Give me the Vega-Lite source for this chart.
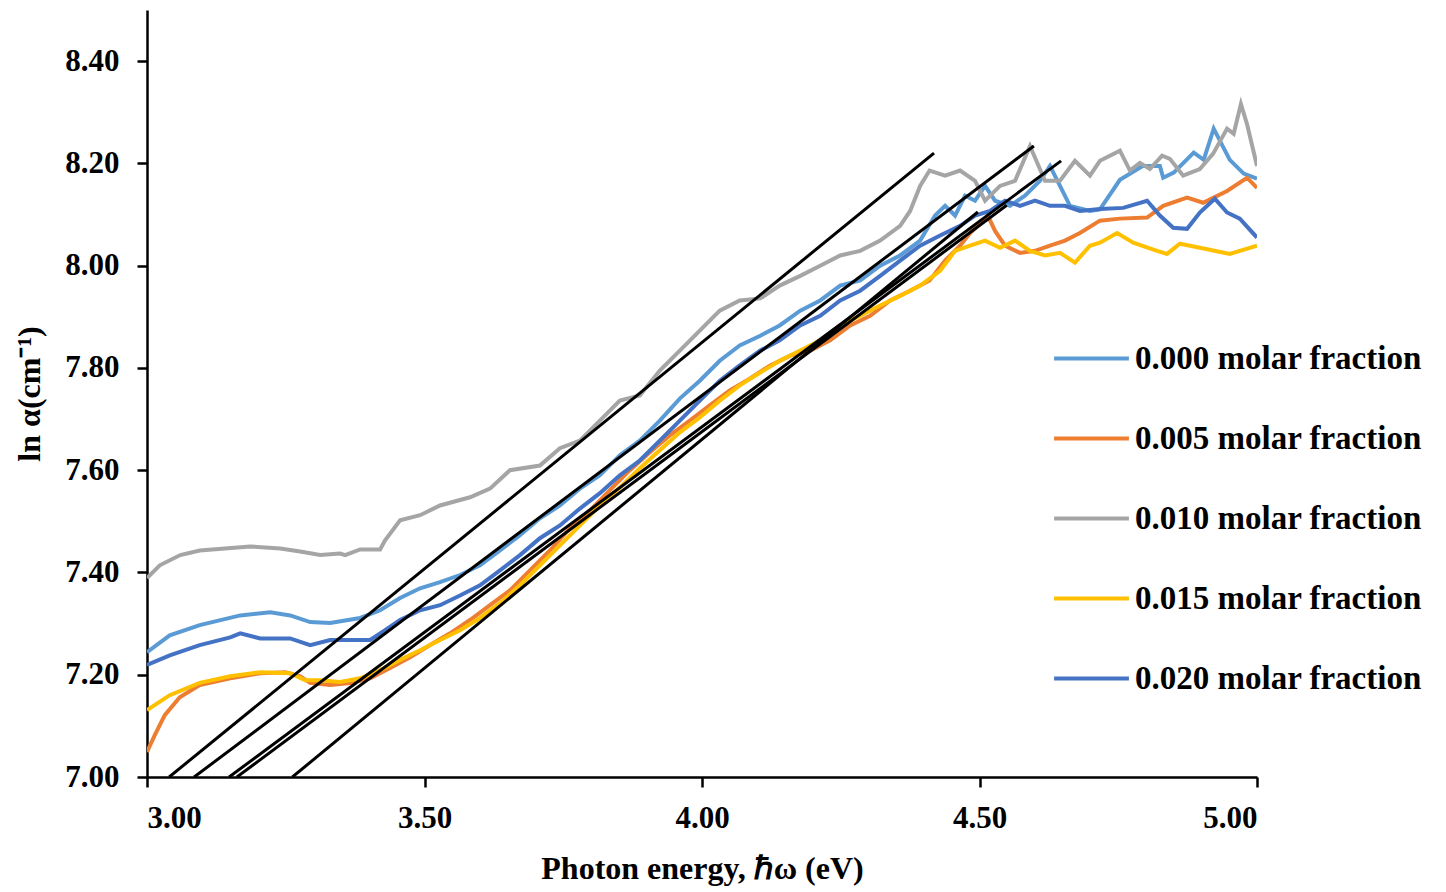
{
  "$schema": "https://vega.github.io/schema/vega-lite/v6.json",
  "width": 1110,
  "height": 767,
  "autosize": "none",
  "padding": {"left": 147, "top": 10, "right": 189, "bottom": 115},
  "background": "white",
  "config": {
    "view": {"stroke": null},
    "font": "Liberation Serif",
    "axis": {
      "grid": false,
      "domainColor": "black",
      "domainWidth": 2.5,
      "tickColor": "black",
      "tickWidth": 2.5,
      "tickSize": 10,
      "labelFont": "Liberation Serif",
      "labelFontSize": 31,
      "labelFontWeight": "bold",
      "labelColor": "black",
      "titleFont": "Liberation Serif",
      "titleFontSize": 32,
      "titleFontWeight": "bold",
      "titleColor": "black"
    },
    "legend": {
      "labelFont": "Liberation Serif",
      "labelFontSize": 33,
      "labelFontWeight": "bold",
      "labelColor": "black",
      "labelLimit": 0
    }
  },
  "datasets": {
    "curves": [
      {"e":3.0,"v":7.244,"s":"0.000 molar fraction"},{"e":3.041,"v":7.277,"s":"0.000 molar fraction"},{"e":3.095,"v":7.297,"s":"0.000 molar fraction"},{"e":3.168,"v":7.316,"s":"0.000 molar fraction"},{"e":3.222,"v":7.322,"s":"0.000 molar fraction"},{"e":3.258,"v":7.316,"s":"0.000 molar fraction"},{"e":3.294,"v":7.303,"s":"0.000 molar fraction"},{"e":3.33,"v":7.301,"s":"0.000 molar fraction"},{"e":3.384,"v":7.311,"s":"0.000 molar fraction"},{"e":3.42,"v":7.326,"s":"0.000 molar fraction"},{"e":3.456,"v":7.35,"s":"0.000 molar fraction"},{"e":3.492,"v":7.369,"s":"0.000 molar fraction"},{"e":3.528,"v":7.381,"s":"0.000 molar fraction"},{"e":3.564,"v":7.395,"s":"0.000 molar fraction"},{"e":3.6,"v":7.414,"s":"0.000 molar fraction"},{"e":3.636,"v":7.443,"s":"0.000 molar fraction"},{"e":3.672,"v":7.473,"s":"0.000 molar fraction"},{"e":3.708,"v":7.506,"s":"0.000 molar fraction"},{"e":3.744,"v":7.531,"s":"0.000 molar fraction"},{"e":3.78,"v":7.564,"s":"0.000 molar fraction"},{"e":3.816,"v":7.59,"s":"0.000 molar fraction"},{"e":3.852,"v":7.629,"s":"0.000 molar fraction"},{"e":3.888,"v":7.658,"s":"0.000 molar fraction"},{"e":3.924,"v":7.697,"s":"0.000 molar fraction"},{"e":3.96,"v":7.74,"s":"0.000 molar fraction"},{"e":3.996,"v":7.775,"s":"0.000 molar fraction"},{"e":4.032,"v":7.814,"s":"0.000 molar fraction"},{"e":4.068,"v":7.844,"s":"0.000 molar fraction"},{"e":4.105,"v":7.863,"s":"0.000 molar fraction"},{"e":4.14,"v":7.883,"s":"0.000 molar fraction"},{"e":4.177,"v":7.912,"s":"0.000 molar fraction"},{"e":4.213,"v":7.932,"s":"0.000 molar fraction"},{"e":4.249,"v":7.961,"s":"0.000 molar fraction"},{"e":4.285,"v":7.971,"s":"0.000 molar fraction"},{"e":4.321,"v":8.0,"s":"0.000 molar fraction"},{"e":4.357,"v":8.02,"s":"0.000 molar fraction"},{"e":4.393,"v":8.049,"s":"0.000 molar fraction"},{"e":4.42,"v":8.098,"s":"0.000 molar fraction"},{"e":4.438,"v":8.117,"s":"0.000 molar fraction"},{"e":4.456,"v":8.098,"s":"0.000 molar fraction"},{"e":4.474,"v":8.137,"s":"0.000 molar fraction"},{"e":4.492,"v":8.127,"s":"0.000 molar fraction"},{"e":4.51,"v":8.156,"s":"0.000 molar fraction"},{"e":4.528,"v":8.127,"s":"0.000 molar fraction"},{"e":4.555,"v":8.117,"s":"0.000 molar fraction"},{"e":4.582,"v":8.137,"s":"0.000 molar fraction"},{"e":4.609,"v":8.166,"s":"0.000 molar fraction"},{"e":4.627,"v":8.195,"s":"0.000 molar fraction"},{"e":4.645,"v":8.156,"s":"0.000 molar fraction"},{"e":4.663,"v":8.117,"s":"0.000 molar fraction"},{"e":4.699,"v":8.107,"s":"0.000 molar fraction"},{"e":4.717,"v":8.11,"s":"0.000 molar fraction"},{"e":4.753,"v":8.168,"s":"0.000 molar fraction"},{"e":4.794,"v":8.195,"s":"0.000 molar fraction"},{"e":4.825,"v":8.195,"s":"0.000 molar fraction"},{"e":4.831,"v":8.172,"s":"0.000 molar fraction"},{"e":4.85,"v":8.182,"s":"0.000 molar fraction"},{"e":4.886,"v":8.221,"s":"0.000 molar fraction"},{"e":4.904,"v":8.207,"s":"0.000 molar fraction"},{"e":4.922,"v":8.268,"s":"0.000 molar fraction"},{"e":4.94,"v":8.23,"s":"0.000 molar fraction"},{"e":4.951,"v":8.207,"s":"0.000 molar fraction"},{"e":4.976,"v":8.18,"s":"0.000 molar fraction"},{"e":5.0,"v":8.17,"s":"0.000 molar fraction"},

      {"e":3.0,"v":7.049,"s":"0.005 molar fraction"},{"e":3.014,"v":7.082,"s":"0.005 molar fraction"},{"e":3.032,"v":7.121,"s":"0.005 molar fraction"},{"e":3.059,"v":7.156,"s":"0.005 molar fraction"},{"e":3.095,"v":7.18,"s":"0.005 molar fraction"},{"e":3.15,"v":7.193,"s":"0.005 molar fraction"},{"e":3.204,"v":7.203,"s":"0.005 molar fraction"},{"e":3.249,"v":7.205,"s":"0.005 molar fraction"},{"e":3.276,"v":7.197,"s":"0.005 molar fraction"},{"e":3.294,"v":7.184,"s":"0.005 molar fraction"},{"e":3.33,"v":7.18,"s":"0.005 molar fraction"},{"e":3.366,"v":7.184,"s":"0.005 molar fraction"},{"e":3.402,"v":7.193,"s":"0.005 molar fraction"},{"e":3.438,"v":7.213,"s":"0.005 molar fraction"},{"e":3.474,"v":7.234,"s":"0.005 molar fraction"},{"e":3.51,"v":7.258,"s":"0.005 molar fraction"},{"e":3.546,"v":7.281,"s":"0.005 molar fraction"},{"e":3.582,"v":7.307,"s":"0.005 molar fraction"},{"e":3.618,"v":7.336,"s":"0.005 molar fraction"},{"e":3.654,"v":7.365,"s":"0.005 molar fraction"},{"e":3.69,"v":7.404,"s":"0.005 molar fraction"},{"e":3.726,"v":7.443,"s":"0.005 molar fraction"},{"e":3.762,"v":7.486,"s":"0.005 molar fraction"},{"e":3.798,"v":7.521,"s":"0.005 molar fraction"},{"e":3.834,"v":7.561,"s":"0.005 molar fraction"},{"e":3.87,"v":7.6,"s":"0.005 molar fraction"},{"e":3.906,"v":7.635,"s":"0.005 molar fraction"},{"e":3.942,"v":7.668,"s":"0.005 molar fraction"},{"e":3.978,"v":7.697,"s":"0.005 molar fraction"},{"e":4.014,"v":7.727,"s":"0.005 molar fraction"},{"e":4.05,"v":7.756,"s":"0.005 molar fraction"},{"e":4.086,"v":7.779,"s":"0.005 molar fraction"},{"e":4.123,"v":7.805,"s":"0.005 molar fraction"},{"e":4.159,"v":7.824,"s":"0.005 molar fraction"},{"e":4.195,"v":7.834,"s":"0.005 molar fraction"},{"e":4.231,"v":7.854,"s":"0.005 molar fraction"},{"e":4.267,"v":7.883,"s":"0.005 molar fraction"},{"e":4.303,"v":7.902,"s":"0.005 molar fraction"},{"e":4.339,"v":7.932,"s":"0.005 molar fraction"},{"e":4.375,"v":7.951,"s":"0.005 molar fraction"},{"e":4.41,"v":7.971,"s":"0.005 molar fraction"},{"e":4.438,"v":8.01,"s":"0.005 molar fraction"},{"e":4.465,"v":8.039,"s":"0.005 molar fraction"},{"e":4.483,"v":8.064,"s":"0.005 molar fraction"},{"e":4.497,"v":8.078,"s":"0.005 molar fraction"},{"e":4.515,"v":8.098,"s":"0.005 molar fraction"},{"e":4.528,"v":8.068,"s":"0.005 molar fraction"},{"e":4.546,"v":8.039,"s":"0.005 molar fraction"},{"e":4.573,"v":8.025,"s":"0.005 molar fraction"},{"e":4.6,"v":8.029,"s":"0.005 molar fraction"},{"e":4.627,"v":8.039,"s":"0.005 molar fraction"},{"e":4.654,"v":8.049,"s":"0.005 molar fraction"},{"e":4.681,"v":8.064,"s":"0.005 molar fraction"},{"e":4.717,"v":8.088,"s":"0.005 molar fraction"},{"e":4.753,"v":8.092,"s":"0.005 molar fraction"},{"e":4.802,"v":8.094,"s":"0.005 molar fraction"},{"e":4.831,"v":8.117,"s":"0.005 molar fraction"},{"e":4.874,"v":8.133,"s":"0.005 molar fraction"},{"e":4.903,"v":8.123,"s":"0.005 molar fraction"},{"e":4.946,"v":8.146,"s":"0.005 molar fraction"},{"e":4.982,"v":8.172,"s":"0.005 molar fraction"},{"e":5.0,"v":8.152,"s":"0.005 molar fraction"},

      {"e":3.0,"v":7.389,"s":"0.010 molar fraction"},{"e":3.023,"v":7.414,"s":"0.010 molar fraction"},{"e":3.06,"v":7.434,"s":"0.010 molar fraction"},{"e":3.095,"v":7.443,"s":"0.010 molar fraction"},{"e":3.186,"v":7.451,"s":"0.010 molar fraction"},{"e":3.24,"v":7.447,"s":"0.010 molar fraction"},{"e":3.276,"v":7.441,"s":"0.010 molar fraction"},{"e":3.312,"v":7.434,"s":"0.010 molar fraction"},{"e":3.348,"v":7.437,"s":"0.010 molar fraction"},{"e":3.357,"v":7.434,"s":"0.010 molar fraction"},{"e":3.384,"v":7.445,"s":"0.010 molar fraction"},{"e":3.42,"v":7.445,"s":"0.010 molar fraction"},{"e":3.429,"v":7.463,"s":"0.010 molar fraction"},{"e":3.456,"v":7.502,"s":"0.010 molar fraction"},{"e":3.492,"v":7.512,"s":"0.010 molar fraction"},{"e":3.528,"v":7.531,"s":"0.010 molar fraction"},{"e":3.582,"v":7.547,"s":"0.010 molar fraction"},{"e":3.618,"v":7.564,"s":"0.010 molar fraction"},{"e":3.654,"v":7.6,"s":"0.010 molar fraction"},{"e":3.708,"v":7.609,"s":"0.010 molar fraction"},{"e":3.744,"v":7.643,"s":"0.010 molar fraction"},{"e":3.78,"v":7.658,"s":"0.010 molar fraction"},{"e":3.816,"v":7.697,"s":"0.010 molar fraction"},{"e":3.852,"v":7.736,"s":"0.010 molar fraction"},{"e":3.888,"v":7.746,"s":"0.010 molar fraction"},{"e":3.924,"v":7.795,"s":"0.010 molar fraction"},{"e":3.96,"v":7.834,"s":"0.010 molar fraction"},{"e":3.996,"v":7.873,"s":"0.010 molar fraction"},{"e":4.032,"v":7.912,"s":"0.010 molar fraction"},{"e":4.068,"v":7.932,"s":"0.010 molar fraction"},{"e":4.105,"v":7.936,"s":"0.010 molar fraction"},{"e":4.14,"v":7.961,"s":"0.010 molar fraction"},{"e":4.177,"v":7.98,"s":"0.010 molar fraction"},{"e":4.213,"v":8.0,"s":"0.010 molar fraction"},{"e":4.249,"v":8.02,"s":"0.010 molar fraction"},{"e":4.285,"v":8.029,"s":"0.010 molar fraction"},{"e":4.321,"v":8.049,"s":"0.010 molar fraction"},{"e":4.357,"v":8.078,"s":"0.010 molar fraction"},{"e":4.375,"v":8.107,"s":"0.010 molar fraction"},{"e":4.393,"v":8.156,"s":"0.010 molar fraction"},{"e":4.41,"v":8.186,"s":"0.010 molar fraction"},{"e":4.438,"v":8.176,"s":"0.010 molar fraction"},{"e":4.465,"v":8.186,"s":"0.010 molar fraction"},{"e":4.492,"v":8.166,"s":"0.010 molar fraction"},{"e":4.51,"v":8.127,"s":"0.010 molar fraction"},{"e":4.537,"v":8.156,"s":"0.010 molar fraction"},{"e":4.564,"v":8.166,"s":"0.010 molar fraction"},{"e":4.591,"v":8.234,"s":"0.010 molar fraction"},{"e":4.618,"v":8.166,"s":"0.010 molar fraction"},{"e":4.645,"v":8.166,"s":"0.010 molar fraction"},{"e":4.672,"v":8.205,"s":"0.010 molar fraction"},{"e":4.699,"v":8.176,"s":"0.010 molar fraction"},{"e":4.717,"v":8.205,"s":"0.010 molar fraction"},{"e":4.753,"v":8.225,"s":"0.010 molar fraction"},{"e":4.771,"v":8.186,"s":"0.010 molar fraction"},{"e":4.789,"v":8.201,"s":"0.010 molar fraction"},{"e":4.807,"v":8.189,"s":"0.010 molar fraction"},{"e":4.829,"v":8.215,"s":"0.010 molar fraction"},{"e":4.843,"v":8.209,"s":"0.010 molar fraction"},{"e":4.867,"v":8.176,"s":"0.010 molar fraction"},{"e":4.897,"v":8.189,"s":"0.010 molar fraction"},{"e":4.921,"v":8.219,"s":"0.010 molar fraction"},{"e":4.946,"v":8.268,"s":"0.010 molar fraction"},{"e":4.958,"v":8.258,"s":"0.010 molar fraction"},{"e":4.971,"v":8.316,"s":"0.010 molar fraction"},{"e":4.982,"v":8.277,"s":"0.010 molar fraction"},{"e":5.0,"v":8.195,"s":"0.010 molar fraction"},

      {"e":3.0,"v":7.131,"s":"0.015 molar fraction"},{"e":3.041,"v":7.16,"s":"0.015 molar fraction"},{"e":3.095,"v":7.184,"s":"0.015 molar fraction"},{"e":3.15,"v":7.197,"s":"0.015 molar fraction"},{"e":3.204,"v":7.205,"s":"0.015 molar fraction"},{"e":3.258,"v":7.203,"s":"0.015 molar fraction"},{"e":3.285,"v":7.189,"s":"0.015 molar fraction"},{"e":3.312,"v":7.189,"s":"0.015 molar fraction"},{"e":3.348,"v":7.186,"s":"0.015 molar fraction"},{"e":3.384,"v":7.193,"s":"0.015 molar fraction"},{"e":3.42,"v":7.209,"s":"0.015 molar fraction"},{"e":3.456,"v":7.229,"s":"0.015 molar fraction"},{"e":3.492,"v":7.248,"s":"0.015 molar fraction"},{"e":3.528,"v":7.268,"s":"0.015 molar fraction"},{"e":3.564,"v":7.287,"s":"0.015 molar fraction"},{"e":3.6,"v":7.311,"s":"0.015 molar fraction"},{"e":3.636,"v":7.34,"s":"0.015 molar fraction"},{"e":3.672,"v":7.375,"s":"0.015 molar fraction"},{"e":3.708,"v":7.414,"s":"0.015 molar fraction"},{"e":3.744,"v":7.453,"s":"0.015 molar fraction"},{"e":3.78,"v":7.492,"s":"0.015 molar fraction"},{"e":3.816,"v":7.531,"s":"0.015 molar fraction"},{"e":3.852,"v":7.566,"s":"0.015 molar fraction"},{"e":3.888,"v":7.604,"s":"0.015 molar fraction"},{"e":3.924,"v":7.639,"s":"0.015 molar fraction"},{"e":3.96,"v":7.674,"s":"0.015 molar fraction"},{"e":3.996,"v":7.703,"s":"0.015 molar fraction"},{"e":4.032,"v":7.736,"s":"0.015 molar fraction"},{"e":4.068,"v":7.766,"s":"0.015 molar fraction"},{"e":4.105,"v":7.791,"s":"0.015 molar fraction"},{"e":4.14,"v":7.814,"s":"0.015 molar fraction"},{"e":4.177,"v":7.834,"s":"0.015 molar fraction"},{"e":4.213,"v":7.854,"s":"0.015 molar fraction"},{"e":4.249,"v":7.883,"s":"0.015 molar fraction"},{"e":4.285,"v":7.902,"s":"0.015 molar fraction"},{"e":4.321,"v":7.922,"s":"0.015 molar fraction"},{"e":4.357,"v":7.941,"s":"0.015 molar fraction"},{"e":4.393,"v":7.961,"s":"0.015 molar fraction"},{"e":4.429,"v":7.99,"s":"0.015 molar fraction"},{"e":4.456,"v":8.029,"s":"0.015 molar fraction"},{"e":4.483,"v":8.039,"s":"0.015 molar fraction"},{"e":4.51,"v":8.049,"s":"0.015 molar fraction"},{"e":4.537,"v":8.035,"s":"0.015 molar fraction"},{"e":4.564,"v":8.049,"s":"0.015 molar fraction"},{"e":4.591,"v":8.029,"s":"0.015 molar fraction"},{"e":4.618,"v":8.02,"s":"0.015 molar fraction"},{"e":4.645,"v":8.025,"s":"0.015 molar fraction"},{"e":4.672,"v":8.006,"s":"0.015 molar fraction"},{"e":4.699,"v":8.039,"s":"0.015 molar fraction"},{"e":4.717,"v":8.045,"s":"0.015 molar fraction"},{"e":4.748,"v":8.064,"s":"0.015 molar fraction"},{"e":4.777,"v":8.045,"s":"0.015 molar fraction"},{"e":4.82,"v":8.029,"s":"0.015 molar fraction"},{"e":4.838,"v":8.023,"s":"0.015 molar fraction"},{"e":4.861,"v":8.043,"s":"0.015 molar fraction"},{"e":4.897,"v":8.035,"s":"0.015 molar fraction"},{"e":4.951,"v":8.023,"s":"0.015 molar fraction"},{"e":5.0,"v":8.039,"s":"0.015 molar fraction"},

      {"e":3.0,"v":7.219,"s":"0.020 molar fraction"},{"e":3.041,"v":7.238,"s":"0.020 molar fraction"},{"e":3.095,"v":7.258,"s":"0.020 molar fraction"},{"e":3.15,"v":7.273,"s":"0.020 molar fraction"},{"e":3.168,"v":7.281,"s":"0.020 molar fraction"},{"e":3.204,"v":7.271,"s":"0.020 molar fraction"},{"e":3.258,"v":7.271,"s":"0.020 molar fraction"},{"e":3.294,"v":7.258,"s":"0.020 molar fraction"},{"e":3.33,"v":7.268,"s":"0.020 molar fraction"},{"e":3.366,"v":7.268,"s":"0.020 molar fraction"},{"e":3.402,"v":7.268,"s":"0.020 molar fraction"},{"e":3.429,"v":7.287,"s":"0.020 molar fraction"},{"e":3.456,"v":7.307,"s":"0.020 molar fraction"},{"e":3.492,"v":7.326,"s":"0.020 molar fraction"},{"e":3.528,"v":7.336,"s":"0.020 molar fraction"},{"e":3.564,"v":7.355,"s":"0.020 molar fraction"},{"e":3.6,"v":7.375,"s":"0.020 molar fraction"},{"e":3.636,"v":7.404,"s":"0.020 molar fraction"},{"e":3.672,"v":7.434,"s":"0.020 molar fraction"},{"e":3.708,"v":7.467,"s":"0.020 molar fraction"},{"e":3.744,"v":7.492,"s":"0.020 molar fraction"},{"e":3.78,"v":7.525,"s":"0.020 molar fraction"},{"e":3.816,"v":7.555,"s":"0.020 molar fraction"},{"e":3.852,"v":7.59,"s":"0.020 molar fraction"},{"e":3.888,"v":7.619,"s":"0.020 molar fraction"},{"e":3.924,"v":7.658,"s":"0.020 molar fraction"},{"e":3.96,"v":7.697,"s":"0.020 molar fraction"},{"e":3.996,"v":7.736,"s":"0.020 molar fraction"},{"e":4.032,"v":7.775,"s":"0.020 molar fraction"},{"e":4.068,"v":7.805,"s":"0.020 molar fraction"},{"e":4.105,"v":7.834,"s":"0.020 molar fraction"},{"e":4.14,"v":7.854,"s":"0.020 molar fraction"},{"e":4.177,"v":7.883,"s":"0.020 molar fraction"},{"e":4.213,"v":7.902,"s":"0.020 molar fraction"},{"e":4.249,"v":7.932,"s":"0.020 molar fraction"},{"e":4.285,"v":7.951,"s":"0.020 molar fraction"},{"e":4.321,"v":7.98,"s":"0.020 molar fraction"},{"e":4.357,"v":8.01,"s":"0.020 molar fraction"},{"e":4.393,"v":8.039,"s":"0.020 molar fraction"},{"e":4.429,"v":8.059,"s":"0.020 molar fraction"},{"e":4.465,"v":8.078,"s":"0.020 molar fraction"},{"e":4.492,"v":8.098,"s":"0.020 molar fraction"},{"e":4.519,"v":8.107,"s":"0.020 molar fraction"},{"e":4.546,"v":8.127,"s":"0.020 molar fraction"},{"e":4.573,"v":8.117,"s":"0.020 molar fraction"},{"e":4.6,"v":8.127,"s":"0.020 molar fraction"},{"e":4.627,"v":8.117,"s":"0.020 molar fraction"},{"e":4.654,"v":8.117,"s":"0.020 molar fraction"},{"e":4.681,"v":8.107,"s":"0.020 molar fraction"},{"e":4.717,"v":8.111,"s":"0.020 molar fraction"},{"e":4.759,"v":8.113,"s":"0.020 molar fraction"},{"e":4.802,"v":8.127,"s":"0.020 molar fraction"},{"e":4.825,"v":8.098,"s":"0.020 molar fraction"},{"e":4.849,"v":8.074,"s":"0.020 molar fraction"},{"e":4.874,"v":8.072,"s":"0.020 molar fraction"},{"e":4.897,"v":8.104,"s":"0.020 molar fraction"},{"e":4.924,"v":8.131,"s":"0.020 molar fraction"},{"e":4.946,"v":8.104,"s":"0.020 molar fraction"},{"e":4.969,"v":8.092,"s":"0.020 molar fraction"},{"e":5.0,"v":8.055,"s":"0.020 molar fraction"}
    ],
    "fits": [
      {"e":3.04,"v":7.0,"f":"A"},{"e":4.418,"v":8.22,"f":"A"},
      {"e":3.085,"v":7.0,"f":"B"},{"e":4.598,"v":8.234,"f":"B"},
      {"e":3.148,"v":7.0,"f":"C"},{"e":4.647,"v":8.205,"f":"C"},
      {"e":3.162,"v":7.0,"f":"D"},{"e":4.549,"v":8.118,"f":"D"},
      {"e":3.262,"v":7.0,"f":"E"},{"e":4.497,"v":8.105,"f":"E"}
    ]
  },
  "layer": [
    {
      "data": {"name": "curves"},
      "mark": {"type": "line", "strokeWidth": 4, "clip": true},
      "encoding": {
        "x": {
          "field": "e", "type": "quantitative",
          "scale": {"domain": [3, 5], "nice": false, "zero": false},
          "axis": {"values": [3, 3.5, 4, 4.5, 5], "format": ".2f", "title": "Photon energy, ℏω (eV)", "labelPadding": 16, "titlePadding": 20}
        },
        "y": {
          "field": "v", "type": "quantitative",
          "scale": {"domain": [7, 8.5], "nice": false, "zero": false},
          "axis": {"values": [7.0, 7.2, 7.4, 7.6, 7.8, 8.0, 8.2, 8.4], "format": ".2f", "title": "ln α(cm⁻¹)", "labelPadding": 18, "titlePadding": 18}
        },
        "color": {
          "field": "s", "type": "nominal",
          "scale": {
            "domain": ["0.000 molar fraction", "0.005 molar fraction", "0.010 molar fraction", "0.015 molar fraction", "0.020 molar fraction"],
            "range": ["#5B9BD5", "#ED7D31", "#A5A5A5", "#FFC000", "#4472C4"]
          },
          "legend": {
            "title": null,
            "orient": "none",
            "legendX": 905,
            "legendY": 309,
            "symbolType": "stroke",
            "symbolSize": 5600,
            "symbolStrokeWidth": 4,
            "labelOffset": 4,
            "rowPadding": 23,
            "padding": 0
          }
        }
      }
    },
    {
      "data": {"name": "fits"},
      "mark": {"type": "line", "color": "black", "strokeWidth": 3, "clip": true},
      "encoding": {
        "x": {"field": "e", "type": "quantitative"},
        "y": {"field": "v", "type": "quantitative"},
        "detail": {"field": "f", "type": "nominal"}
      }
    }
  ]
}
